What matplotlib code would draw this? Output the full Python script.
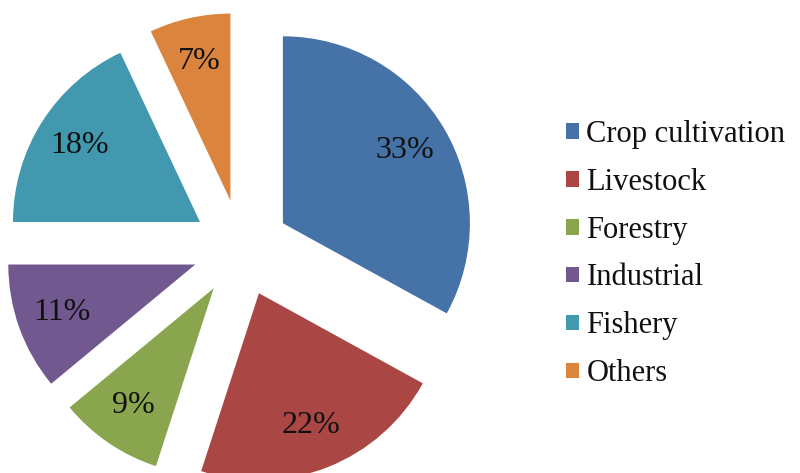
import matplotlib
matplotlib.use("Agg")
import matplotlib.pyplot as plt


# Share of each sector, in percent
SECTORS = ["Crop cultivation", "Livestock", "Forestry", "Industrial", "Fishery", "Others"]
SHARES = [33, 22, 9, 11, 18, 7]
COLORS = ["#4572A7", "#AA4643", "#89A54E", "#71588F", "#4198AF", "#DB843D"]

plt.rcParams["font.family"] = ["Liberation Serif", "DejaVu Serif"]

fig = plt.figure(figsize=(8, 4.73), dpi=100)
ax = fig.add_axes([0, 0, 1, 1])

# Every slice is pulled out of the pie
wedges, texts, autotexts = ax.pie(
    SHARES,
    colors=COLORS,
    startangle=90,
    counterclock=False,
    explode=[0.26] * len(SHARES),
    autopct="%d%%",
    pctdistance=0.76,
    textprops={"fontsize": 23, "color": "#111111", "family": "Liberation Serif"},
)

# Place the pie on the left side of the figure
ax.set_xlim(-1.289, -1.289 + 800 / 187)
ax.set_ylim(-1.203, -1.203 + 473 / 187)
ax.set_aspect("equal")
ax.axis("off")

leg = fig.legend(
    wedges, SECTORS,
    loc="center left",
    bbox_to_anchor=(566 / 800, 0.463),
    frameon=False,
    fontsize=22,
    handlelength=0.42,
    handleheight=0.42,
    handletextpad=0.25,
    labelspacing=0.62,
    borderpad=0,
    borderaxespad=0,
)
for t in leg.get_texts():
    t.set_fontfamily("Liberation Serif")
    t.set_color("#111111")

fig.savefig("out.png", dpi=100)
